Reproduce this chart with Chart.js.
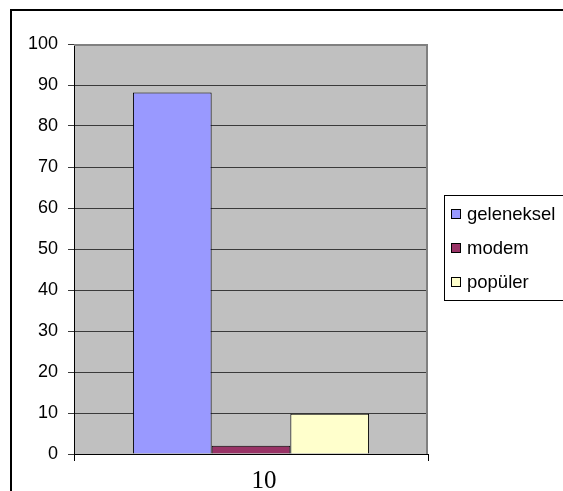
<!DOCTYPE html>
<html><head><meta charset="utf-8">
<script src="https://cdn.jsdelivr.net/npm/chart.js@4"></script>
<style>html,body{margin:0;padding:0;background:#fff;}#wrap{width:563px;height:491px;}</style>
</head><body><div id="wrap"><canvas id="c" width="563" height="491"></canvas></div>
<script>
const categories = ["10"];
const seriesNames = ["geleneksel", "modem", "popüler"];
const geleneksel = [88.2];
const modem = [2];
const populer = [9.8];
const yTicks = [0,10,20,30,40,50,60,70,80,90,100];
const colors = ["#9999FF", "#993366", "#FFFFCC"];

const frame = {
  id: 'frame',
  beforeDraw(chart) {
    const {ctx, chartArea: a} = chart;
    ctx.save();
    ctx.fillStyle = '#C0C0C0';
    ctx.fillRect(a.left, a.top, a.right - a.left, a.bottom - a.top);
    ctx.restore();
  },
  afterDraw(chart) {
    const {ctx, chartArea: a} = chart;
    ctx.save();
    ctx.strokeStyle = '#808080';
    ctx.lineWidth = 2;
    ctx.beginPath();
    ctx.moveTo(a.left, a.top + 1); ctx.lineTo(a.right - 1, a.top + 1); ctx.lineTo(a.right - 1, a.bottom);
    ctx.stroke();
    // outer border (left and top visible)
    ctx.strokeStyle = '#000';
    ctx.lineWidth = 2;
    ctx.beginPath();
    ctx.moveTo(11, 491); ctx.lineTo(11, 10); ctx.lineTo(563, 10);
    ctx.stroke();
    // legend
    const lx = 444.5, ly = 195.5, lw = 130, lh = 105;
    ctx.lineWidth = 1;
    ctx.strokeStyle = '#000';
    ctx.fillStyle = '#fff';
    ctx.fillRect(lx, ly, lw, lh);
    ctx.strokeRect(lx, ly, lw, lh);
    ctx.font = '18.5px "Liberation Sans", Arial, sans-serif';
    ctx.textBaseline = 'middle';
    chart.data.datasets.forEach((ds, i) => {
      const cy = 214 + i * 34;
      ctx.fillStyle = ds.backgroundColor;
      ctx.fillRect(451.5, cy - 4.5, 9, 9);
      ctx.strokeRect(451.5, cy - 4.5, 9, 9);
      ctx.fillStyle = '#000';
      ctx.fillText(ds.label, 467, cy + 1);
    });
    ctx.restore();
  }
};

new Chart(document.getElementById('c'), {
  type: 'bar',
  data: {
    labels: categories,
    datasets: [
      {label: seriesNames[0], data: geleneksel, backgroundColor: colors[0]},
      {label: seriesNames[1], data: modem, backgroundColor: colors[1]},
      {label: seriesNames[2], data: populer, backgroundColor: colors[2]}
    ].map(d => Object.assign(d, {borderColor: '#000', borderWidth: 1, borderSkipped: 'bottom'}))
  },
  options: {
    responsive: false,
    animation: false,
    devicePixelRatio: 1,
    layout: {padding: {left: 0, top: 44, right: 135, bottom: 0}},
    plugins: {legend: {display: false}, tooltip: {enabled: false}},
    datasets: {bar: {categoryPercentage: 0.667, barPercentage: 1}},
    scales: {
      x: {
        afterFit: s => { s.height = 37; },
        grid: {offset: true, drawOnChartArea: false, tickLength: 7, color: '#000', lineWidth: 1},
        border: {color: '#000', width: 1},
        ticks: {color: '#000', font: {family: '"Liberation Serif", "Times New Roman", serif', size: 25}, padding: 5, labelOffset: 13}
      },
      y: {
        min: 0, max: 100,
        afterFit: s => { s.width = 74; },
        afterBuildTicks: s => { s.ticks = yTicks.map(v => ({value: v})); },
        grid: {color: '#3a3a3a', lineWidth: 1, tickLength: 6},
        border: {color: '#000', width: 1},
        ticks: {color: '#000', font: {family: '"Liberation Sans", Arial, sans-serif', size: 18}, padding: 10}
      }
    }
  },
  plugins: [frame]
});
</script>
</body></html>
